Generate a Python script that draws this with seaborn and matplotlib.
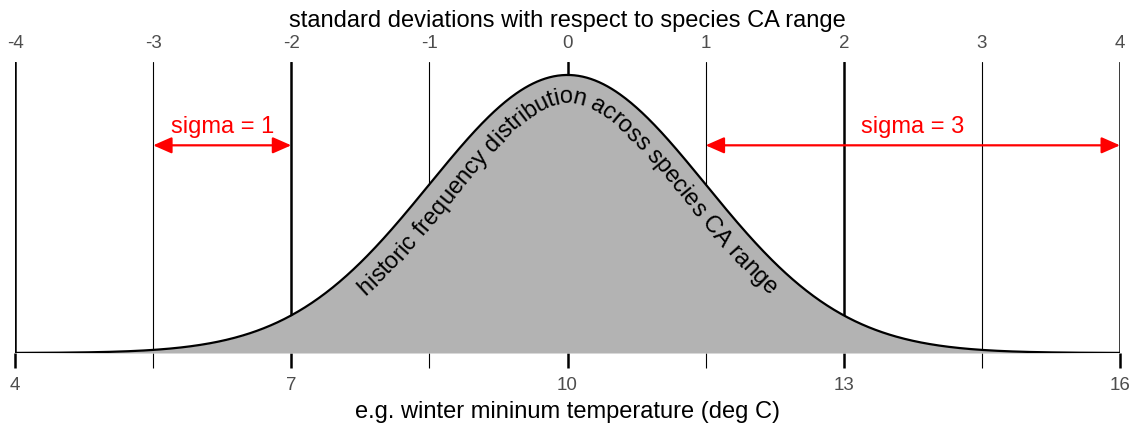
import numpy as np
import pandas as pd
import seaborn as sns
import matplotlib.pyplot as plt
from matplotlib.transforms import IdentityTransform
from matplotlib.font_manager import FontProperties, findfont
from matplotlib.ft2font import FT2Font

# chart values
sd_ticks = [-4, -3, -2, -1, 0, 1, 2, 3, 4]
temp_labels = ["4", "", "7", "", "10", "", "13", "", "16"]
mu, sigma = 0, 1
curve_text = "historic frequency distribution across species CA range"
arrow1 = {"label": "sigma = 1", "start": -3, "end": -2}
arrow2 = {"label": "sigma = 3", "start": 1, "end": 4}
arrow_y = 0.298

sns.set_style("white")
plt.rcParams["font.family"] = ["Liberation Sans", "DejaVu Sans"]
plt.rcParams["text.color"] = "black"
plt.rcParams["axes.labelcolor"] = "black"

z = np.linspace(-4, 4, 801)
dens = np.exp(-0.5 * ((z - mu) / sigma) ** 2) / (sigma * np.sqrt(2 * np.pi))
df = pd.DataFrame({"z": z, "density": dens})

fig = plt.figure(figsize=(11.34, 4.25), dpi=100)
ax = fig.add_axes([15 / 1134, (425 - 353) / 425, 1105 / 1134, 291 / 425])

thick = [t % 2 == 0 for t in sd_ticks]
for t, th in zip(sd_ticks, thick):
    ax.axvline(t, color="black", lw=1.8 if th else 0.8, zorder=1)

ax.fill_between(df["z"], 0, df["density"], color="#b3b3b3", lw=0, zorder=2)
sns.lineplot(data=df, x="z", y="density", color="black", lw=1.6, ax=ax, zorder=3)

ax.set_xlim(-4, 4)
ax.set_ylim(0, 0.3989 * 291 / 278)
for s in ax.spines.values():
    s.set_visible(False)
ax.set_yticks([])
ax.set_ylabel("")

ax.set_xticks(sd_ticks)
ax.set_xticklabels(temp_labels, color="#4d4d4d", fontsize=13.5)
ax.tick_params(axis="x", bottom=True, length=11, pad=6, color="black")
for tick, th in zip(ax.xaxis.get_major_ticks(), thick):
    tick.tick1line.set_markeredgewidth(1.8 if th else 0.8)
ax.set_xlabel("e.g. winter mininum temperature (deg C)", fontsize=17, labelpad=5)

top = ax.secondary_xaxis("top")
top.set_xticks(sd_ticks)
top.set_xticklabels([str(t) for t in sd_ticks], color="#4d4d4d", fontsize=13.5)
top.tick_params(length=0, pad=7)
top.spines["top"].set_visible(False)
top.set_xlabel("standard deviations with respect to species CA range", fontsize=17, labelpad=6)

for a in (arrow1, arrow2):
    ax.annotate("", xy=(a["end"], arrow_y), xytext=(a["start"], arrow_y),
                arrowprops=dict(arrowstyle="<|-|>,head_length=0.75,head_width=0.33",
                                color="red", lw=1.6, shrinkA=0, shrinkB=0,
                                mutation_scale=15), zorder=4)
    ax.text((a["start"] + a["end"]) / 2, arrow_y + 0.01, a["label"], color="red",
            fontsize=17, ha="center", va="bottom", zorder=4)

# text following the curve: spacing measured along a line near letter middles,
# baselines placed further inside the curve
fig.canvas.draw()
fp = FontProperties(family=["Liberation Sans", "DejaVu Sans"], size=17)
ft = FT2Font(findfont(fp))
ft.set_size(17, fig.dpi)
adv = [ft.load_char(ord(ch)).linearHoriAdvance / 65536 for ch in curve_text]

pts = ax.transData.transform(np.column_stack([z, dens]))
d = np.gradient(pts, axis=0)
d /= np.linalg.norm(d, axis=1)[:, None]
normal = np.column_stack([d[:, 1], -d[:, 0]])
base = pts + normal * 28
mid = pts + normal * 23
arc = np.concatenate([[0], np.cumsum(np.linalg.norm(np.diff(mid, axis=0), axis=1))])
idx = np.arange(len(z))
center_arc = np.interp(0, z, arc)

pos = np.concatenate([[0], np.cumsum(adv)])
start = center_arc - pos[-1] / 2
for i, ch in enumerate(curve_text):
    if ch == " ":
        continue
    k = np.interp(start + (pos[i] + pos[i + 1]) / 2, arc, idx)
    x = np.interp(k, idx, base[:, 0])
    y = np.interp(k, idx, base[:, 1])
    ang = np.degrees(np.arctan2(np.interp(k, idx, d[:, 1]), np.interp(k, idx, d[:, 0])))
    fig.text(x, y, ch, fontproperties=fp, rotation=ang, rotation_mode="anchor",
             ha="center", va="baseline", transform=IdentityTransform(), zorder=5)

fig.savefig("out.png", dpi=100)
